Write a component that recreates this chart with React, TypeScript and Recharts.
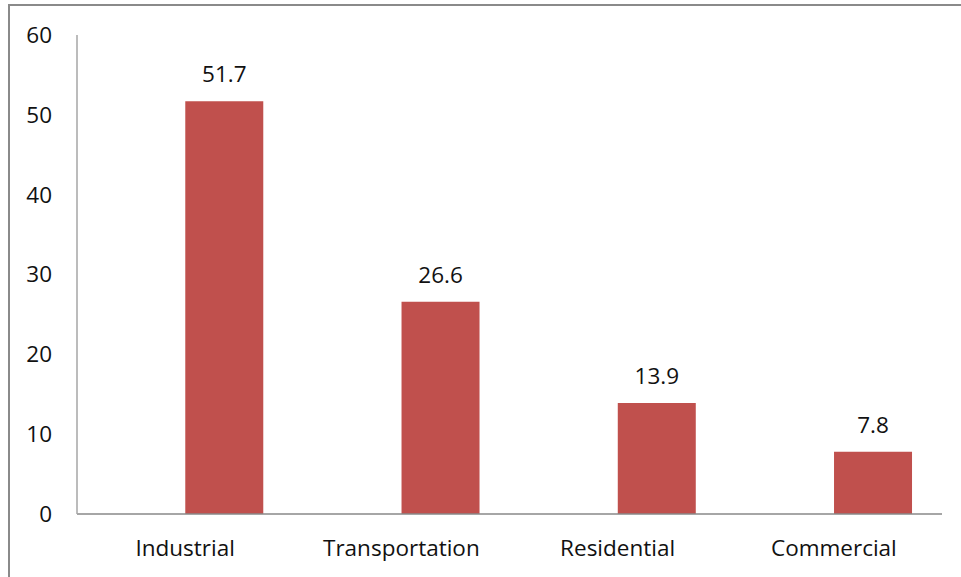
import { Bar, BarChart, LabelList, XAxis, YAxis } from 'recharts';

const SECTORS = ['Industrial', 'Transportation', 'Residential', 'Commercial'];
const SHARE = [51.7, 26.6, 13.9, 7.8];
const Y_TICKS = [0, 10, 20, 30, 40, 50, 60];

const FONT = '"Open Sans", "Noto Sans", sans-serif';
const TEXT = { fill: '#111', fontSize: 22.5, fontFamily: FONT };

export default function App() {
  // first series is an empty slot, the visible bar sits right of the category centre
  const data = SECTORS.map((name, i) => ({ name, empty: null, share: SHARE[i] }));

  return (
    <div
      style={{
        position: 'absolute',
        left: 0,
        top: 0,
        width: 961,
        height: 577,
        background: '#fff',
        fontFamily: FONT,
      }}
    >
      <div
        style={{
          position: 'absolute',
          left: 8,
          top: 4,
          right: 0,
          bottom: 0,
          borderTop: '2px solid #8a8a8a',
          borderLeft: '2px solid #8a8a8a',
        }}
      />
      <BarChart
        width={961}
        height={577}
        data={data}
        margin={{ top: 35, right: 19, bottom: 23, left: 0 }}
        barCategoryGap="14%"
        barGap={0}
        style={{ position: 'absolute', left: 0, top: 0 }}
      >
        <XAxis
          dataKey="name"
          height={40}
          tickLine={false}
          tickSize={0}
          tickMargin={26}
          axisLine={{ stroke: '#888888', strokeWidth: 1.5 }}
          tick={TEXT}
          interval={0}
        />
        <YAxis
          domain={[0, 60]}
          ticks={Y_TICKS}
          width={77}
          tickLine={false}
          tickSize={0}
          tickMargin={25}
          axisLine={{ stroke: '#a6a6a6', strokeWidth: 1.5 }}
          tick={TEXT}
        />
        <Bar dataKey="empty" fill="none" isAnimationActive={false} />
        <Bar dataKey="share" fill="#C0504D" isAnimationActive={false}>
          <LabelList dataKey="share" position="top" offset={19} style={TEXT} />
        </Bar>
      </BarChart>
    </div>
  );
}
